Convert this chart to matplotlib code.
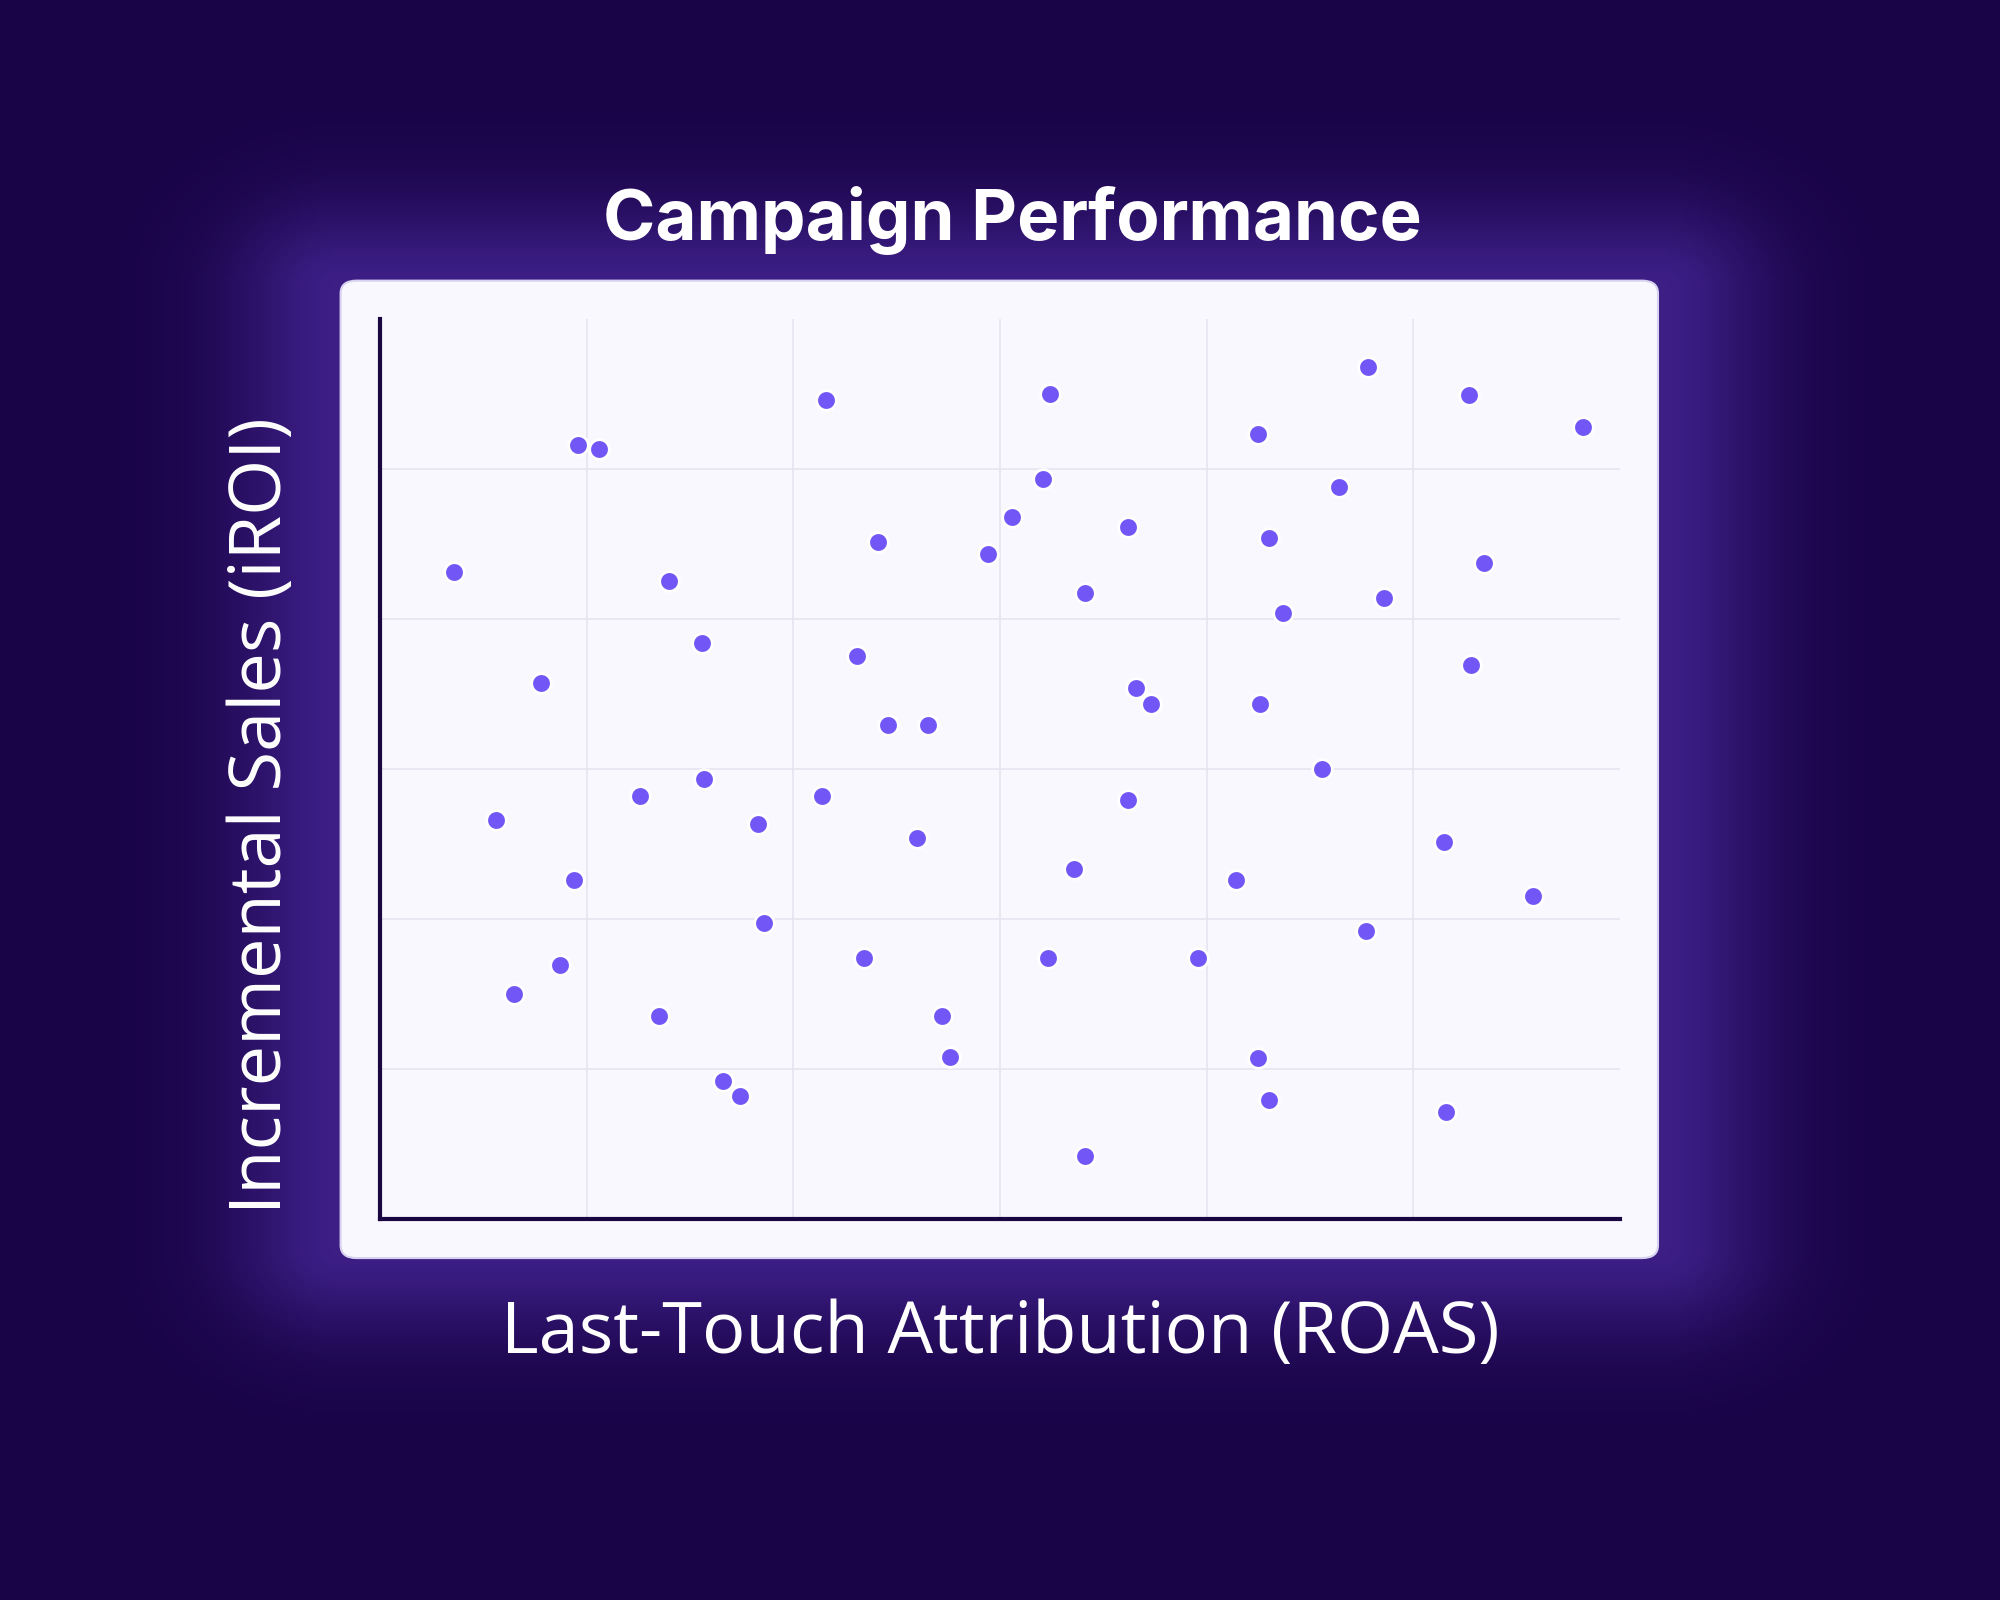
import numpy as np
import matplotlib
matplotlib.use("Agg")
import matplotlib.pyplot as plt
from matplotlib.patches import FancyBboxPatch

roas = [0.36,0.96,1.06,0.78,0.56,0.94,0.65,0.87,1.40,1.56,1.26,1.57,1.83,1.86,1.35,1.66,1.74,
        2.16,2.41,2.31,2.46,2.65,2.14,2.60,2.34,2.72,2.76,3.24,3.21,3.06,2.94,3.41,3.62,3.66,
        3.73,3.62,3.36,3.23,3.41,4.25,4.30,4.37,4.26,3.96,4.14,4.25,4.30,4.78,4.64,4.86,4.56,
        4.77,5.27,5.34,5.28,5.15,5.58,5.16,5.82]
iroi = [4.31,5.16,5.13,3.57,2.66,2.26,1.50,1.69,4.25,3.84,2.82,2.93,2.63,1.97,1.35,0.92,0.82,
        5.46,4.51,3.75,3.29,3.29,2.82,2.54,1.74,1.35,1.08,5.50,4.93,4.68,4.43,4.17,4.61,3.54,
        3.43,2.79,2.33,1.74,0.42,5.23,4.54,4.04,3.43,1.74,2.26,1.07,0.79,5.68,4.88,4.14,3.00,
        1.92,5.49,4.37,3.69,2.51,2.15,0.71,5.28]

fig = plt.figure(figsize=(20, 16), dpi=100)
fig.patch.set_facecolor("#1a0448")

bg = fig.add_axes([0, 0, 1, 1], zorder=0)
bg.set_axis_off()
yy, xx = np.mgrid[0:1:400j, 0:1:500j]
dx = np.clip(np.abs(xx - 0.5) - 0.33, 0, None)
dy = np.clip(np.abs(yy - 0.52) - 0.30, 0, None)
d = np.sqrt(dx**2 + dy**2)
g = np.exp(-(d / 0.055) ** 2) * 0.8
base = np.array([0x1a, 0x04, 0x48]) / 255
glow = np.array([0x45, 0x25, 0x95]) / 255
img = base + (glow - base) * g[..., None]
bg.imshow(img, extent=[0, 1, 0, 1], aspect="auto", origin="lower")
bg.set_xlim(0, 1); bg.set_ylim(0, 1)
bg.add_patch(FancyBboxPatch((0.1703, 0.2137), 0.829 - 0.1703, 0.8246 - 0.2137,
                            boxstyle="round,pad=0,rounding_size=0.008",
                            facecolor="#f9f8fe", edgecolor="#d8d2f0", linewidth=1.5,
                            transform=bg.transAxes))

ax = fig.add_axes([0.19, 0.2384, 0.62, 0.5622], zorder=2)
ax.set_facecolor("none")
ax.set_xlim(0, 6); ax.set_ylim(0, 6)
ax.set_xticks([1, 2, 3, 4, 5]); ax.set_yticks([1, 2, 3, 4, 5])
ax.tick_params(length=0, labelbottom=False, labelleft=False)
ax.grid(True, color="#e6e4ef", linewidth=1.2)
for s in ["top", "right"]:
    ax.spines[s].set_visible(False)
for s in ["left", "bottom"]:
    ax.spines[s].set_color("#1a0640"); ax.spines[s].set_linewidth(3)
ax.scatter(roas, iroi, s=200, color="#7357f6", edgecolor="white", linewidth=2, zorder=3)

fig.text(0.506, 0.862, "Campaign Performance", ha="center", va="center",
         color="white", fontsize=51, fontweight="bold", family=["Inter", "DejaVu Sans"])
fig.text(0.5, 0.166, "Last-Touch Attribution (ROAS)", ha="center", va="center",
         color="white", fontsize=52, fontweight="normal", family=["Open Sans", "DejaVu Sans"])
fig.text(0.131, 0.49, "Incremental Sales (iROI)", ha="center", va="center", rotation=90,
         color="white", fontsize=52, fontweight="normal", family=["Open Sans", "DejaVu Sans"])

fig.savefig("out.png", dpi=100, facecolor=fig.get_facecolor())
